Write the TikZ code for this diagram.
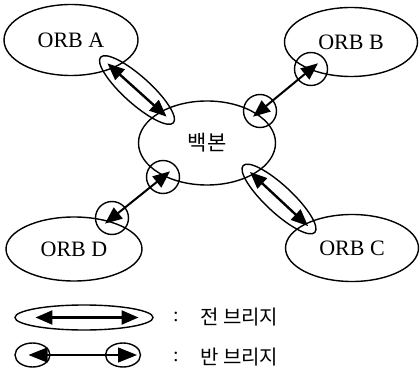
\documentclass[tikz,border=0pt]{standalone}
\usepackage{fontspec}
\setmainfont{Liberation Serif}
\newfontfamily\krfont{Noto Sans CJK KR}
\usetikzlibrary{shapes.geometric,arrows.meta,calc}
\begin{document}
\begin{tikzpicture}[x=1pt,y=-1pt,
  orb/.style={draw, ellipse, line width=1.4pt, inner sep=0pt, font=\fontsize{22}{24}\selectfont},
  hbnode/.style={draw, circle, minimum size=33pt, inner sep=0pt, line width=1.4pt},
  fbnode/.style={draw, ellipse, minimum width=98pt, minimum height=27pt, inner sep=0pt, line width=1.4pt},
  fbarrow/.style={line width=2.4pt, {Triangle[length=17pt,width=14pt]}-{Triangle[length=17pt,width=14pt]}},
  hbarrow/.style={line width=2pt, {Triangle[length=17pt,width=14pt]}-{Triangle[length=17pt,width=14pt]}},
  legarrow/.style={line width=1.2pt, {Triangle[length=19pt,width=15pt]}-{Triangle[length=19pt,width=15pt]}},
  smallell/.style={draw, ellipse, minimum width=35pt, minimum height=24pt, inner sep=0pt, line width=1.4pt},
  lbl/.style={font=\krfont\fontsize{20}{24}\selectfont, inner sep=0pt, anchor=west},
  colon/.style={font=\fontsize{20}{24}\selectfont, inner sep=0pt}
]
\useasboundingbox (0,0) rectangle (420,379);

% ORB nodes and backbone
\node[orb, minimum width=134pt, minimum height=71pt] (A) at (71,40) {ORB A};
\node[orb, minimum width=133pt, minimum height=69pt] (B) at (351,42) {ORB B};
\node[orb, minimum width=133pt, minimum height=67pt] (C) at (352,248) {ORB C};
\node[orb, minimum width=136pt, minimum height=64pt] (D) at (74,249) {ORB D};
\node[orb, minimum width=137pt, minimum height=84pt, font=\krfont\fontsize{21}{24}\selectfont] (K) at (207,143) {백본};

% full bridges
\node[fbnode, rotate=-42] (fA) at (137,90) {};
\draw[fbarrow] ($(fA.west)!0.1!(fA.east)$) -- ($(fA.west)!0.9!(fA.east)$);
\node[fbnode, rotate=-43] (fC) at (279,199) {};
\draw[fbarrow] ($(fC.west)!0.1!(fC.east)$) -- ($(fC.west)!0.9!(fC.east)$);

% half bridges
\node[hbnode] (hB1) at (311,69) {};
\node[hbnode] (hB2) at (260,111) {};
\draw[hbarrow] ($(hB2)!-9pt!(hB1)$) -- ($(hB1)!-9pt!(hB2)$);
\node[hbnode] (hD1) at (163,177) {};
\node[hbnode] (hD2) at (112,218) {};
\draw[hbarrow] ($(hD2)!-9pt!(hD1)$) -- ($(hD1)!-9pt!(hD2)$);

% legend
\node[fbnode, minimum width=138pt, minimum height=25pt] (L1) at (84,317.5) {};
\draw[fbarrow] ($(L1.west)!0.152!(L1.east)$) -- ($(L1.west)!0.891!(L1.east)$);
\node[colon] (c1) at (176,317) {:};
\node[lbl] (t1) at (200,317) {전 브리지};

\node[smallell] (L2a) at (32.5,355) {};
\node[smallell] (L2b) at (123,355) {};
\draw[legarrow] ($(L2a)!-4pt!(L2b)$) -- ($(L2b)!-14pt!(L2a)$);
\node[colon] (c2) at (176,357) {:};
\node[lbl] (t2) at (200,357) {반 브리지};
\end{tikzpicture}
\end{document}
